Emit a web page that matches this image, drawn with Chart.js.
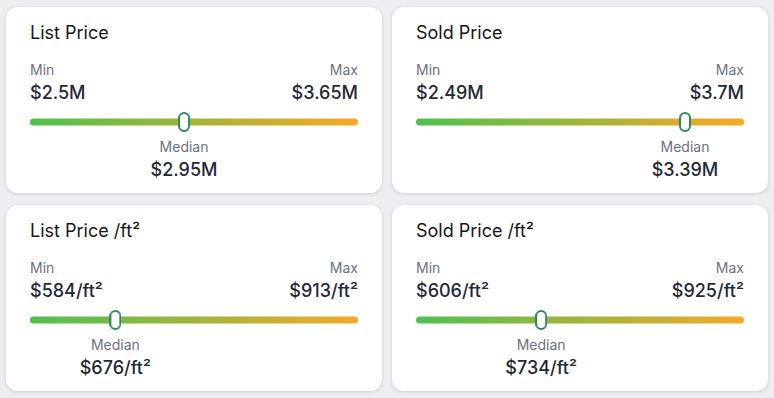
<!DOCTYPE html>
<html>
<head>
<meta charset="utf-8">
<script src="https://cdn.jsdelivr.net/npm/chart.js@4"></script>
<style>
  html, body { margin: 0; padding: 0; }
  body {
    width: 774px; height: 398px; background: #ededf2; position: relative; overflow: hidden;
    font-family: Inter, "Noto Sans", sans-serif;
  }
  .card {
    position: absolute; width: 376px; height: 186px; background: #fff;
    border-radius: 12px; box-shadow: 0 1px 4px rgba(0, 0, 0, 0.12);
  }
  .card div { position: absolute; line-height: 1; white-space: nowrap; }
  .title { left: 24px; top: 17px; font-size: 18px; color: #161616; }
  .lbl { top: 56px; font-size: 14px; color: #6b7280; }
  .val { top: 77px; font-size: 18px; font-weight: 500; color: #1f2937; }
  .left { left: 24px; }
  .right { right: 24px; }
  .med-lbl { top: 133px; font-size: 14px; color: #6b7280; transform: translateX(-50%); }
  .med-val { top: 154px; font-size: 18px; font-weight: 500; color: #1f2937; transform: translateX(-50%); }
  canvas { position: absolute; left: 0; top: 100px; }
</style>
</head>
<body>
<script>
const titles = ["List Price", "Sold Price", "List Price /ft²", "Sold Price /ft²"];
const minLabels = ["$2.5M", "$2.49M", "$584/ft²", "$606/ft²"];
const maxLabels = ["$3.65M", "$3.7M", "$913/ft²", "$925/ft²"];
const medianLabels = ["$2.95M", "$3.39M", "$676/ft²", "$734/ft²"];
// where the median marker sits along the range, in percent
const medianPos = [46.9, 82.7, 25.5, 37.9];

const cardLeft = [6, 392, 6, 392];
const cardTop = [7, 7, 205, 205];

// pill shaped marker used as point style
const pill = document.createElement("canvas");
pill.width = 12;
pill.height = 20;
const pc = pill.getContext("2d");
pc.beginPath();
pc.roundRect(1, 1, 10, 18, 5);
pc.fillStyle = "#ffffff";
pc.fill();
pc.lineWidth = 2;
pc.strokeStyle = "#2e8a5c";
pc.stroke();

const trackColor = (ctx) => {
    const area = ctx.chart.chartArea;
    if (!area) return "#4fc04f";
    const g = ctx.chart.ctx.createLinearGradient(area.left - 3.5, 0, area.right + 3.5, 0);
    g.addColorStop(0, "#4fc04f");
    g.addColorStop(1, "#f6a92a");
    return g;
};

titles.forEach((t, i) => {
    const card = document.createElement("div");
    card.className = "card";
    card.style.left = cardLeft[i] + "px";
    card.style.top = cardTop[i] + "px";
    card.innerHTML = `
      <div class="title">${t}</div>
      <div class="lbl left">Min</div>
      <div class="lbl right">Max</div>
      <div class="val left">${minLabels[i]}</div>
      <div class="val right">${maxLabels[i]}</div>
      <canvas width="376" height="30"></canvas>
      <div class="med-lbl">Median</div>
      <div class="med-val">${medianLabels[i]}</div>`;
    document.body.appendChild(card);

    const chart = new Chart(card.querySelector("canvas"), {
        type: "line",
        data: {
            datasets: [
                {
                    label: "Median",
                    data: [{ x: medianPos[i], y: 0 }],
                    showLine: false,
                    pointStyle: pill,
                    order: 0,
                    clip: false,
                },
                {
                    label: "Range",
                    data: [{ x: 0, y: 0 }, { x: 100, y: 0 }],
                    borderColor: trackColor,
                    borderWidth: 7,
                    borderCapStyle: "round",
                    pointRadius: 0,
                    order: 1,
                    clip: false,
                },
            ],
        },
        options: {
            responsive: false,
            animation: false,
            events: [],
            layout: { padding: { left: 27.5, right: 27.5, top: 0, bottom: 0 } },
            scales: {
                x: { type: "linear", min: 0, max: 100, display: false },
                y: { type: "linear", min: -1, max: 1, display: false },
            },
            plugins: { legend: { display: false }, tooltip: { enabled: false } },
        },
    });

    const mx = chart.scales.x.getPixelForValue(medianPos[i]);
    card.querySelector(".med-lbl").style.left = mx + "px";
    card.querySelector(".med-val").style.left = mx + "px";
});
</script>
</body>
</html>
